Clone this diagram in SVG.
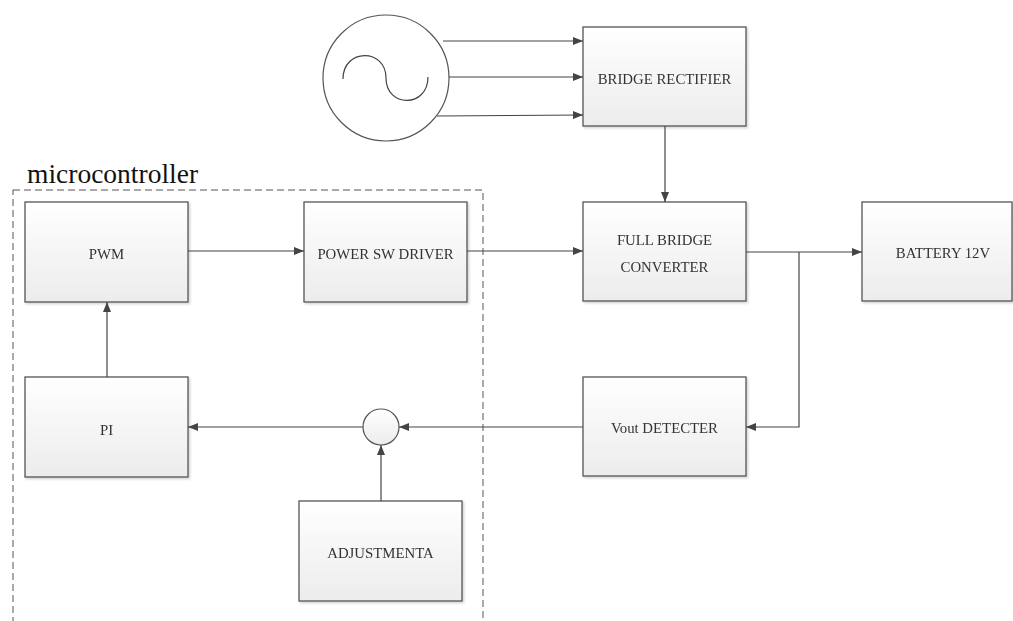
<svg xmlns="http://www.w3.org/2000/svg" width="1013" height="621" viewBox="0 0 1013 621">
<style>
.box{fill:url(#g);stroke:#555;stroke-width:1.3}
.lbl{font-family:"Liberation Serif","Times New Roman",serif;font-size:14.8px;fill:#333;text-anchor:middle}
.ln{fill:none;stroke:#444;stroke-width:1.2}
.arr{marker-end:url(#ah)}
</style>
<defs>
<linearGradient id="g" x1="0" y1="0" x2="0" y2="1">
<stop offset="0" stop-color="#ffffff"/>
<stop offset="1" stop-color="#ececec"/>
</linearGradient>
<filter id="sh" x="-5%" y="-5%" width="115%" height="115%">
<feDropShadow dx="1.5" dy="1.5" stdDeviation="1" flood-color="#000" flood-opacity="0.18"/>
</filter>
<marker id="ah" viewBox="0 0 10 8" refX="10" refY="4" markerWidth="10" markerHeight="8" markerUnits="userSpaceOnUse" orient="auto">
<path d="M0,0 L10,4 L0,8 Z" fill="#444"/>
</marker>
</defs>
<rect width="1013" height="621" fill="#fff"/>
<g id="microcontroller">
<rect x="13" y="190" width="470" height="440" fill="none" stroke="#555" stroke-width="1" stroke-dasharray="7,4"/>
<text x="27" y="183" font-family="'Liberation Serif','Times New Roman',serif" font-size="27.5" fill="#111">microcontroller</text>
</g>
<g id="ac_source">
<circle cx="386" cy="78" r="63" fill="#fff" stroke="#555" stroke-width="1.2"/>
<path d="M343,79 C343,48 386,48 386,78 C386,108 428,108 428,77" fill="none" stroke="#444" stroke-width="1.2"/>
</g>
<g id="bridge_rectifier" filter="url(#sh)">
<rect class="box" x="583" y="27" width="163" height="99"/>
<text class="lbl" x="664.5" y="84">BRIDGE RECTIFIER</text>
</g>
<g id="full_bridge_converter" filter="url(#sh)">
<rect class="box" x="583" y="202" width="163" height="99"/>
<text class="lbl" x="664.5" y="245">FULL BRIDGE</text>
<text class="lbl" x="664.5" y="272">CONVERTER</text>
</g>
<g id="battery" filter="url(#sh)">
<rect class="box" x="862" y="202" width="150" height="99"/>
<text class="lbl" x="943" y="258">BATTERY 12V</text>
</g>
<g id="vout_detecter" filter="url(#sh)">
<rect class="box" x="583" y="377" width="163" height="99"/>
<text class="lbl" x="664.5" y="433">Vout DETECTER</text>
</g>
<g id="pwm" filter="url(#sh)">
<rect class="box" x="25" y="202" width="163" height="100"/>
<text class="lbl" x="106.5" y="259">PWM</text>
</g>
<g id="power_sw_driver" filter="url(#sh)">
<rect class="box" x="304" y="202" width="163" height="100"/>
<text class="lbl" x="385.5" y="259">POWER SW DRIVER</text>
</g>
<g id="pi" filter="url(#sh)">
<rect class="box" x="25" y="377" width="163" height="100"/>
<text class="lbl" x="106.5" y="435">PI</text>
</g>
<g id="adjustmenta" filter="url(#sh)">
<rect class="box" x="299" y="501" width="163" height="100"/>
<text class="lbl" x="380.5" y="558">ADJUSTMENTA</text>
</g>
<g id="summing_junction">
<circle cx="381" cy="427" r="18" fill="url(#g)" stroke="#555" stroke-width="1.2"/>
</g>
<g id="connectors">
<line class="ln arr" x1="443" y1="41" x2="583" y2="41"/>
<line class="ln arr" x1="449" y1="77" x2="583" y2="77"/>
<line class="ln arr" x1="437" y1="116" x2="583" y2="115"/>
<line class="ln arr" x1="665" y1="126" x2="665" y2="202"/>
<line class="ln arr" x1="188" y1="251" x2="304" y2="251"/>
<line class="ln arr" x1="467" y1="251" x2="583" y2="251"/>
<line class="ln arr" x1="746" y1="252" x2="862" y2="252"/>
<polyline class="ln arr" points="799,252 799,427 746,427"/>
<line class="ln arr" x1="583" y1="427" x2="399" y2="427"/>
<line class="ln arr" x1="363" y1="427" x2="188" y2="427"/>
<line class="ln arr" x1="381" y1="501" x2="381" y2="445"/>
<line class="ln arr" x1="107" y1="377" x2="107" y2="302"/>
</g>
</svg>
